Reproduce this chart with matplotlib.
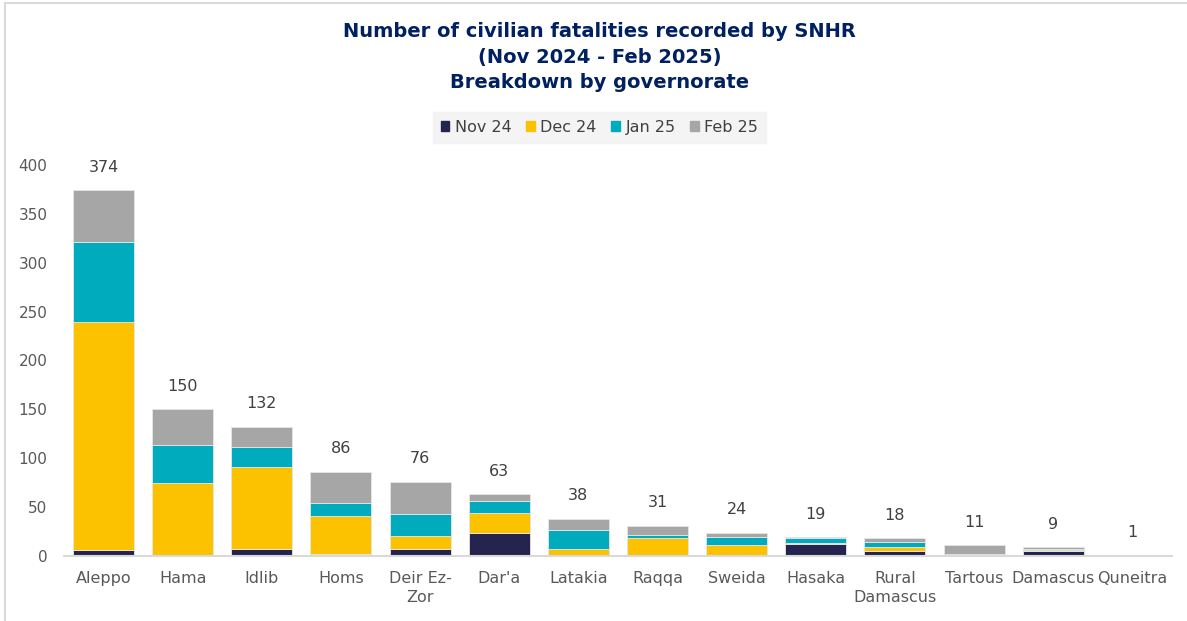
import matplotlib.pyplot as plt
import matplotlib.patches as mpatches
import numpy as np

# --- data ---
governorates = ["Aleppo", "Hama", "Idlib", "Homs", "Deir Ez-\nZor", "Dar'a", "Latakia",
                "Raqqa", "Sweida", "Hasaka", "Rural\nDamascus", "Tartous", "Damascus", "Quneitra"]
months = ["Nov 24", "Dec 24", "Jan 25", "Feb 25"]
nov_24 = [6, 0, 7, 2, 7, 24, 0, 1, 1, 12, 5, 0, 5, 0]
dec_24 = [233, 75, 84, 39, 13, 20, 7, 17, 10, 1, 4, 0, 1, 0]
jan_25 = [82, 39, 20, 13, 23, 12, 20, 3, 8, 5, 5, 2, 1, 1]
feb_25 = [53, 36, 21, 32, 33, 7, 11, 10, 5, 1, 4, 9, 2, 0]

COLORS = ["#25244F", "#FCC200", "#00ABBD", "#A6A6A6"]
plt.rcParams['font.family'] = ["DejaVu Sans"]

series = [nov_24, dec_24, jan_25, feb_25]
x = np.arange(len(governorates))

fig = plt.figure(figsize=(11.87, 6.21), dpi=100)
ax = fig.add_axes([0.0539, 0.1047, 0.9334, 0.6296])

# stacked bars
bottom = np.zeros(len(governorates))
for vals, color, label in zip(series, COLORS, months):
    ax.bar(x, vals, width=0.77, bottom=bottom, color=color, label=label,
           edgecolor="#E6E6E6", linewidth=0.6)
    bottom += np.array(vals)

# totals above bars
for xi, tot in zip(x, bottom):
    ax.annotate(f"{int(tot)}", (xi, tot), xytext=(0, 23), textcoords="offset pixels",
                ha="center", va="center", fontsize=11.5, color="#404040")

ax.set_xlim(-0.5, 13.5)
ax.set_ylim(0, 400)
ax.set_yticks(range(0, 401, 50))
ax.set_xticks(x)
ax.set_xticklabels(governorates, linespacing=1.3)
ax.tick_params(axis="both", length=0, labelsize=11, labelcolor="#595959")
ax.tick_params(axis="x", pad=11, labelsize=11.5)
ax.tick_params(axis="y", pad=12)
for side in ["top", "right", "left"]:
    ax.spines[side].set_visible(False)
ax.spines["bottom"].set_color("#D9D9D9")
ax.spines["bottom"].set_linewidth(1.5)

# title
fig.text(0.505, 0.908, "Number of civilian fatalities recorded by SNHR\n(Nov 2024 - Feb 2025)\nBreakdown by governorate",
         ha="center", va="center", fontsize=14, fontweight="bold", color="#002060", linespacing=1.42)

# legend
handles = [mpatches.Patch(color=c, label=m) for c, m in zip(COLORS, months)]
leg = fig.legend(handles=handles, loc="center", bbox_to_anchor=(0.505, 0.795), ncol=4,
                 frameon=True, fontsize=11.5, handlelength=0.55, handleheight=0.55,
                 handletextpad=0.35, columnspacing=0.9, borderpad=0.5)
leg.get_frame().set_facecolor("#F2F2F2")
leg.get_frame().set_edgecolor("#F2F2F2")
leg.get_frame().set_boxstyle("square", pad=0)
for t in leg.get_texts():
    t.set_color("#404040")

# light border of the chart area
fig.patches.append(mpatches.Rectangle((0.004, -0.01), 1.1, 1.005, transform=fig.transFigure,
                                      fill=False, edgecolor="#D9D9D9", linewidth=1.5))

fig.savefig("out.png", dpi=100)
